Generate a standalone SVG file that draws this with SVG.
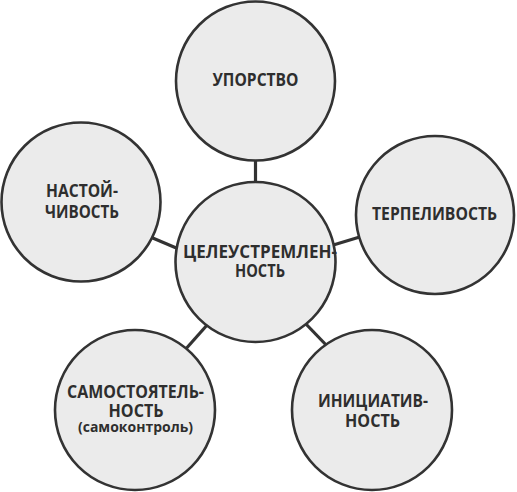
<svg xmlns="http://www.w3.org/2000/svg" width="517" height="492" viewBox="0 0 517 492">
<style>
.bg{fill:#ffffff}
.node circle{fill:#ebebeb;stroke:#333333;stroke-width:2.6}
.conn line{stroke:#333333;stroke-width:3.2}
text{font-family:"Open Sans","Liberation Sans",sans-serif;font-weight:bold;fill:#2e2e2e;text-anchor:middle;font-size:17px}
.small{font-size:13.5px}
</style>
<rect class="bg" x="0" y="0" width="517" height="492"/>
<g id="connectors" class="conn">
<line x1="255.5" y1="158" x2="255.5" y2="185"/>
<line x1="148" y1="236" x2="181" y2="250"/>
<line x1="330" y1="246" x2="363" y2="236"/>
<line x1="184" y1="351" x2="208" y2="324"/>
<line x1="304" y1="322" x2="330" y2="349"/>
</g>
<g id="node-top" class="node">
<circle cx="255.5" cy="81" r="79.5"/>
<text x="255.5" y="86" textLength="86" lengthAdjust="spacingAndGlyphs">УПОРСТВО</text>
</g>
<g id="node-left" class="node">
<circle cx="81" cy="202" r="79.5"/>
<text x="82" y="197" textLength="72" lengthAdjust="spacingAndGlyphs">НАСТОЙ-</text>
<text x="82" y="218" textLength="74" lengthAdjust="spacingAndGlyphs">ЧИВОСТЬ</text>
</g>
<g id="node-right" class="node">
<circle cx="435" cy="215" r="79"/>
<text x="434.5" y="220" textLength="125" lengthAdjust="spacingAndGlyphs">ТЕРПЕЛИВОСТЬ</text>
</g>
<g id="node-center" class="node">
<circle cx="255.5" cy="262" r="80"/>
<text x="260" y="258" textLength="154" lengthAdjust="spacingAndGlyphs">ЦЕЛЕУСТРЕМЛЕН-</text>
<text x="260" y="277" textLength="50" lengthAdjust="spacingAndGlyphs">НОСТЬ</text>
</g>
<g id="node-bottom-left" class="node">
<circle cx="135" cy="410" r="80"/>
<text x="135.5" y="398" textLength="137" lengthAdjust="spacingAndGlyphs">САМОСТОЯТЕЛЬ-</text>
<text x="136" y="417" textLength="55" lengthAdjust="spacingAndGlyphs">НОСТЬ</text>
<text class="small" x="135.5" y="432" textLength="115" lengthAdjust="spacingAndGlyphs">(самоконтроль)</text>
</g>
<g id="node-bottom-right" class="node">
<circle cx="372" cy="410" r="80"/>
<text x="373" y="407" textLength="110" lengthAdjust="spacingAndGlyphs">ИНИЦИАТИВ-</text>
<text x="372.5" y="427" textLength="55" lengthAdjust="spacingAndGlyphs">НОСТЬ</text>
</g>
</svg>
